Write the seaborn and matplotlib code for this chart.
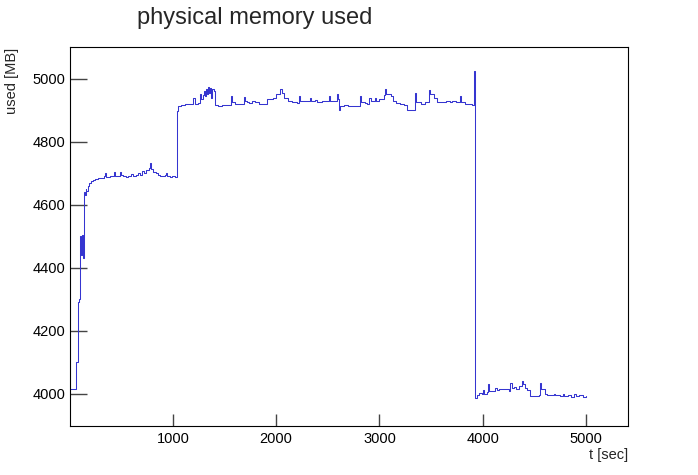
import numpy as np
import pandas as pd
import matplotlib
matplotlib.use("Agg")
import matplotlib.pyplot as plt
import seaborn as sns
from matplotlib.ticker import MultipleLocator

# ---- data ----
t_sec = [0, 55, 60, 65, 83, 85, 95, 100, 110, 112, 118, 125, 128, 138, 142, 150, 155,
         160, 175, 190, 210, 230, 250, 280, 300, 330, 345, 355, 390, 410, 430, 440, 470,
         490, 500, 520, 550, 570, 600, 615, 640, 665, 680, 700, 720, 740, 770, 780, 790,
         810, 840, 860, 880, 900, 920, 935, 945, 970, 990, 1020, 1040,
         1045, 1050, 1080, 1120, 1170, 1200, 1210, 1240, 1260, 1270, 1290, 1300, 1310,
         1320, 1330, 1340, 1350, 1360, 1370, 1380, 1400, 1410, 1440, 1480, 1520, 1560,
         1570, 1600, 1640, 1685, 1695, 1720, 1740, 1770, 1800, 1830, 1870, 1910, 1940,
         1970, 2000, 2040, 2055, 2080, 2110, 2150, 2200, 2220, 2230, 2280, 2330, 2340,
         2380, 2400, 2440, 2500, 2510, 2520, 2550, 2590, 2600, 2610, 2620, 2660, 2700,
         2740, 2810, 2820, 2860, 2880, 2900, 2920, 2960, 2970, 3000, 3040, 3055, 3065,
         3090, 3110, 3130, 3160, 3200, 3240, 3270, 3340, 3350, 3400, 3440, 3480, 3490,
         3530, 3560, 3600, 3640, 3680, 3700, 3740, 3780, 3790, 3830, 3860, 3900, 3915,
         3925, 3940, 3960, 3990, 4000, 4010, 4040, 4050, 4060, 4100, 4120, 4140, 4160,
         4190, 4220, 4250, 4265, 4280, 4300, 4320, 4350, 4375, 4390, 4410, 4430, 4460,
         4500, 4540, 4555, 4565, 4600, 4620, 4660, 4690, 4700, 4750, 4780, 4790, 4820,
         4850, 4880, 4900, 4930, 4960, 4970, 5000]
used_mb = [4014, 4014, 4050, 4100, 4100, 4290, 4300, 4500, 4500, 4440, 4505, 4505, 4430, 4440, 4640, 4630, 4650,
           4645, 4660, 4668, 4675, 4678, 4682, 4685, 4684, 4690, 4702, 4688, 4690, 4692, 4705, 4690, 4692,
           4703, 4695, 4690, 4688, 4690, 4698, 4690, 4695, 4700, 4695, 4708, 4702, 4710, 4715, 4732, 4712,
           4705, 4700, 4695, 4692, 4690, 4695, 4700, 4690, 4688, 4690, 4688, 4688,
           4898, 4912, 4915, 4918, 4920, 4940, 4920, 4922, 4950, 4935, 4948, 4960, 4945,
           4968, 4950, 4972, 4955, 4970, 4940, 4968, 4960, 4915, 4912, 4915, 4917, 4945,
           4925, 4920, 4920, 4942, 4928, 4925, 4922, 4930, 4925, 4918, 4920, 4935, 4935,
           4940, 4950, 4968, 4955, 4940, 4930, 4925, 4922, 4945, 4928, 4928, 4940, 4930,
           4933, 4926, 4928, 4930, 4945, 4930, 4930, 4952, 4935, 4900, 4912, 4915, 4913,
           4912, 4945, 4925, 4922, 4920, 4940, 4928, 4940, 4930, 4935, 4948, 4968, 4950,
           4950, 4945, 4930, 4922, 4920, 4915, 4902, 4955, 4925, 4920, 4925, 4965, 4950,
           4940, 4925, 4925, 4928, 4925, 4928, 4925, 4945, 4925, 4920, 4920, 4915, 5025,
           3986, 3995, 4002, 4000, 4012, 4000, 4005, 4030, 4010, 4008, 4020, 4012, 4015,
           4015, 4015, 4010, 4034, 4020, 4022, 4015, 4025, 4040, 4030, 4020, 4012, 3992,
           3992, 3995, 4034, 4015, 4000, 3995, 3995, 4000, 3995, 3993, 4000, 3993, 3995,
           3990, 3998, 3992, 3995, 3995, 3990, 3993]

x_ticks = [1000, 2000, 3000, 4000, 5000]
y_ticks = [4000, 4200, 4400, 4600, 4800, 5000]

df = pd.DataFrame({"t": t_sec, "used": used_mb})

sns.set_style("white")
plt.rcParams["font.family"] = ["Liberation Sans", "DejaVu Sans"]

fig = plt.figure(figsize=(6.98, 4.75), dpi=100)
ax = fig.add_axes([69.5 / 698, 1 - 426 / 475, (628 - 69.5) / 698, (426 - 46.5) / 475])

sns.lineplot(data=df, x="t", y="used", ax=ax, estimator=None, sort=False,
             color="#3535d0", linewidth=0.75, drawstyle="steps-post")

ax.set_xlim(0, 5405)
ax.set_ylim(3898, 5102)
ax.set_xticks(x_ticks)
ax.set_yticks(y_ticks)
ax.xaxis.set_minor_locator(MultipleLocator(200))
ax.yaxis.set_minor_locator(MultipleLocator(50))
ax.tick_params(axis="both", which="both", direction="in", colors="#444444",
               labelcolor="black", labelsize=10.5)
ax.tick_params(axis="y", which="major", length=12, width=1.0, pad=3)
ax.tick_params(axis="y", which="minor", length=6, width=1.0)
ax.tick_params(axis="x", which="major", length=8.5, width=1.0, pad=4)
ax.tick_params(axis="x", which="minor", length=4.5, width=1.0)
ax.tick_params(left=True, bottom=True, right=False, top=False)
for s in ax.spines.values():
    s.set_color("black")
    s.set_linewidth(0.8)
ax.set_xlabel("")
ax.set_ylabel("")

fig.text(137 / 698, 1 - 18 / 475, "physical memory used", ha="left", va="center", fontsize=17)
fig.text(12 / 698, 1 - 48 / 475, "used [MB]", ha="center", va="top", rotation=90, fontsize=10.5)
fig.text(628 / 698, 1 - 455 / 475, "t [sec]", ha="right", va="center", fontsize=10.5)

fig.savefig("out.png", dpi=100, facecolor="white")
